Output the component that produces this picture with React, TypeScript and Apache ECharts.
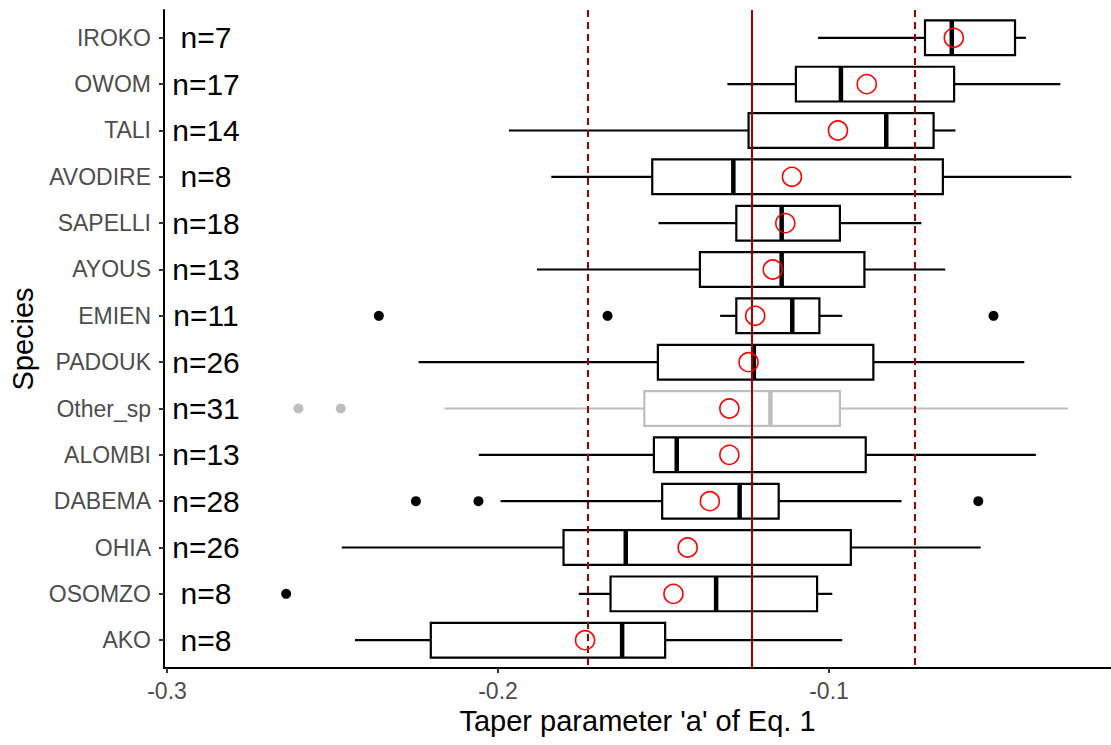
import React, { useEffect, useRef } from 'react';
import * as echarts from 'echarts';

const species = ['IROKO', 'OWOM', 'TALI', 'AVODIRE', 'SAPELLI', 'AYOUS', 'EMIEN', 'PADOUK', 'Other_sp', 'ALOMBI', 'DABEMA', 'OHIA', 'OSOMZO', 'AKO'];
const counts = [7, 17, 14, 8, 18, 13, 11, 26, 31, 13, 28, 26, 8, 8];
const whiskerLow = [-0.1033, -0.1307, -0.1967, -0.1839, -0.1515, -0.1882, -0.1329, -0.2240, -0.2162, -0.2058, -0.1992, -0.2472, -0.1756, -0.2432];
const q1 = [-0.0710, -0.1100, -0.1243, -0.1534, -0.1280, -0.1390, -0.1280, -0.1517, -0.1558, -0.1529, -0.1504, -0.1802, -0.1660, -0.2203];
const medians = [-0.0629, -0.0964, -0.0827, -0.1289, -0.1143, -0.1143, -0.1111, -0.1227, -0.1177, -0.1460, -0.1270, -0.1614, -0.1341, -0.1625];
const q3 = [-0.0438, -0.0622, -0.0684, -0.0656, -0.0967, -0.0893, -0.1029, -0.0866, -0.0967, -0.0889, -0.1152, -0.0934, -0.1036, -0.1495];
const whiskerHigh = [-0.0405, -0.0301, -0.0618, -0.0268, -0.0721, -0.0649, -0.0960, -0.0410, -0.0278, -0.0375, -0.0781, -0.0542, -0.0990, -0.0960];
const means = [-0.0623, -0.0886, -0.0973, -0.1112, -0.1132, -0.1170, -0.1223, -0.1243, -0.1301, -0.1301, -0.1360, -0.1427, -0.1470, -0.1737];
const outlierSpecies = ['EMIEN', 'EMIEN', 'EMIEN', 'Other_sp', 'Other_sp', 'DABEMA', 'DABEMA', 'DABEMA', 'OSOMZO'];
const outlierValues = [-0.2360, -0.1669, -0.0503, -0.2603, -0.2475, -0.2248, -0.2059, -0.0549, -0.2640];
const overallMean = -0.1234;
const lowerLimit = -0.1728;
const upperLimit = -0.0741;
const xTicks = [-0.3, -0.2, -0.1];
const xTitle = "Taper parameter 'a' of Eq. 1";
const yTitle = 'Species';

const FONT = "'Liberation Sans', Arial, Helvetica, sans-serif";
const X_MIN = -0.300906;
const X_MAX = -0.014803;
const N_LABEL_X = -0.28822;
const GREY = '#bebebe';
const DARKRED = '#a00000';

export default function App() {
  const ref = useRef<HTMLDivElement>(null);
  useEffect(() => {
    if (!ref.current) return;
    const chart = echarts.init(ref.current, null, { renderer: 'svg' });
    const yTicks = species.map((_, i) => i);
    const boxData = species.map((_, i) => [i, whiskerLow[i], q1[i], medians[i], q3[i], whiskerHigh[i]]);
    const option: any = {
      animation: false,
      backgroundColor: '#fff',
      textStyle: { fontFamily: FONT },
      grid: { left: 164, right: 0, top: 10, bottom: 77, containLabel: false },
      xAxis: {
        type: 'value',
        min: X_MIN,
        max: X_MAX,
        axisLine: { show: true, onZero: false, lineStyle: { color: '#000', width: 2 } },
        axisTick: { show: true, length: 5, customValues: xTicks, lineStyle: { color: '#333', width: 2 } },
        axisLabel: {
          customValues: xTicks,
          fontSize: 23,
          color: '#4d4d4d',
          margin: 11,
          fontFamily: FONT,
          formatter: (v: number) => String(Math.round(v * 10) / 10),
        },
        splitLine: { show: false },
        name: xTitle,
        nameLocation: 'middle',
        nameGap: 36,
        nameTextStyle: { fontSize: 29, color: '#000', fontFamily: FONT },
      },
      yAxis: {
        type: 'value',
        inverse: true,
        min: -0.6,
        max: 13.6,
        axisLine: { show: true, onZero: false, lineStyle: { color: '#000', width: 2 } },
        axisTick: { show: true, length: 5, customValues: yTicks, lineStyle: { color: '#333', width: 2 } },
        axisLabel: {
          customValues: yTicks,
          fontSize: 23,
          color: '#4d4d4d',
          margin: 13,
          fontFamily: FONT,
          formatter: (v: number) => species[Math.round(v)] ?? '',
        },
        splitLine: { show: false },
        name: yTitle,
        nameLocation: 'middle',
        nameRotate: 90,
        nameGap: 127,
        nameTextStyle: { fontSize: 29, color: '#000', fontFamily: FONT },
      },
      series: [
        {
          type: 'custom',
          name: 'boxes',
          z: 2,
          data: boxData,
          encode: { x: [1, 2, 3, 4, 5], y: 0 },
          renderItem: (params: any, api: any) => {
            const i = api.value(0);
            const lo = api.coord([api.value(1), i]);
            const a = api.coord([api.value(2), i]);
            const m = api.coord([api.value(3), i]);
            const b = api.coord([api.value(4), i]);
            const hi = api.coord([api.value(5), i]);
            const h = Math.abs(api.size([0, 0.75])[1]);
            const color = species[i] === 'Other_sp' ? GREY : '#000';
            return {
              type: 'group',
              children: [
                { type: 'line', shape: { x1: lo[0], y1: lo[1], x2: a[0], y2: a[1] }, style: { stroke: color, lineWidth: 2.2 } },
                { type: 'line', shape: { x1: b[0], y1: b[1], x2: hi[0], y2: hi[1] }, style: { stroke: color, lineWidth: 2.2 } },
                { type: 'rect', shape: { x: a[0], y: a[1] - h / 2, width: b[0] - a[0], height: h }, style: { fill: '#fff', stroke: color, lineWidth: 2.2 } },
                { type: 'line', shape: { x1: m[0], y1: m[1] - h / 2, x2: m[0], y2: m[1] + h / 2 }, style: { stroke: color, lineWidth: 4.5 } },
              ],
            };
          },
        },
        {
          type: 'scatter',
          name: 'outliers',
          z: 6,
          symbol: 'circle',
          symbolSize: 10,
          data: outlierValues.map((v, k) => ({
            value: [v, species.indexOf(outlierSpecies[k])],
            itemStyle: { color: outlierSpecies[k] === 'Other_sp' ? GREY : '#000', opacity: 1 },
          })),
        },
        {
          type: 'scatter',
          name: 'means',
          z: 8,
          symbol: 'circle',
          symbolSize: 19,
          encode: { x: 0, y: 1 },
          data: means.map((v, i) => [v, i]),
          itemStyle: { color: 'rgba(0,0,0,0)', borderColor: '#ff0000', borderWidth: 1.6, opacity: 1 },
          markLine: {
            silent: true,
            symbol: ['none', 'none'],
            precision: 6,
            z: 5,
            label: { show: false },
            data: [
              { xAxis: lowerLimit, lineStyle: { color: DARKRED, width: 2, type: [7, 5], opacity: 1 } },
              { xAxis: overallMean, lineStyle: { color: DARKRED, width: 2, type: 'solid', opacity: 1 } },
              { xAxis: upperLimit, lineStyle: { color: DARKRED, width: 2, type: [7, 5], opacity: 1 } },
            ],
          },
        },
        {
          type: 'custom',
          name: 'counts',
          z: 9,
          data: counts.map((n, i) => [i, n]),
          encode: { y: 0 },
          renderItem: (params: any, api: any) => {
            const i = api.value(0);
            const p = api.coord([N_LABEL_X, i]);
            return {
              type: 'text',
              x: p[0],
              y: p[1],
              style: {
                text: 'n=' + api.value(1),
                fontSize: 30,
                fontFamily: FONT,
                fill: '#000',
                align: 'center',
                verticalAlign: 'middle',
              },
            };
          },
        },
      ],
    };
    chart.setOption(option);
    return () => chart.dispose();
  }, []);
  return <div ref={ref} style={{ position: 'absolute', left: 0, top: 0, width: 1111, height: 745 }} />;
}
